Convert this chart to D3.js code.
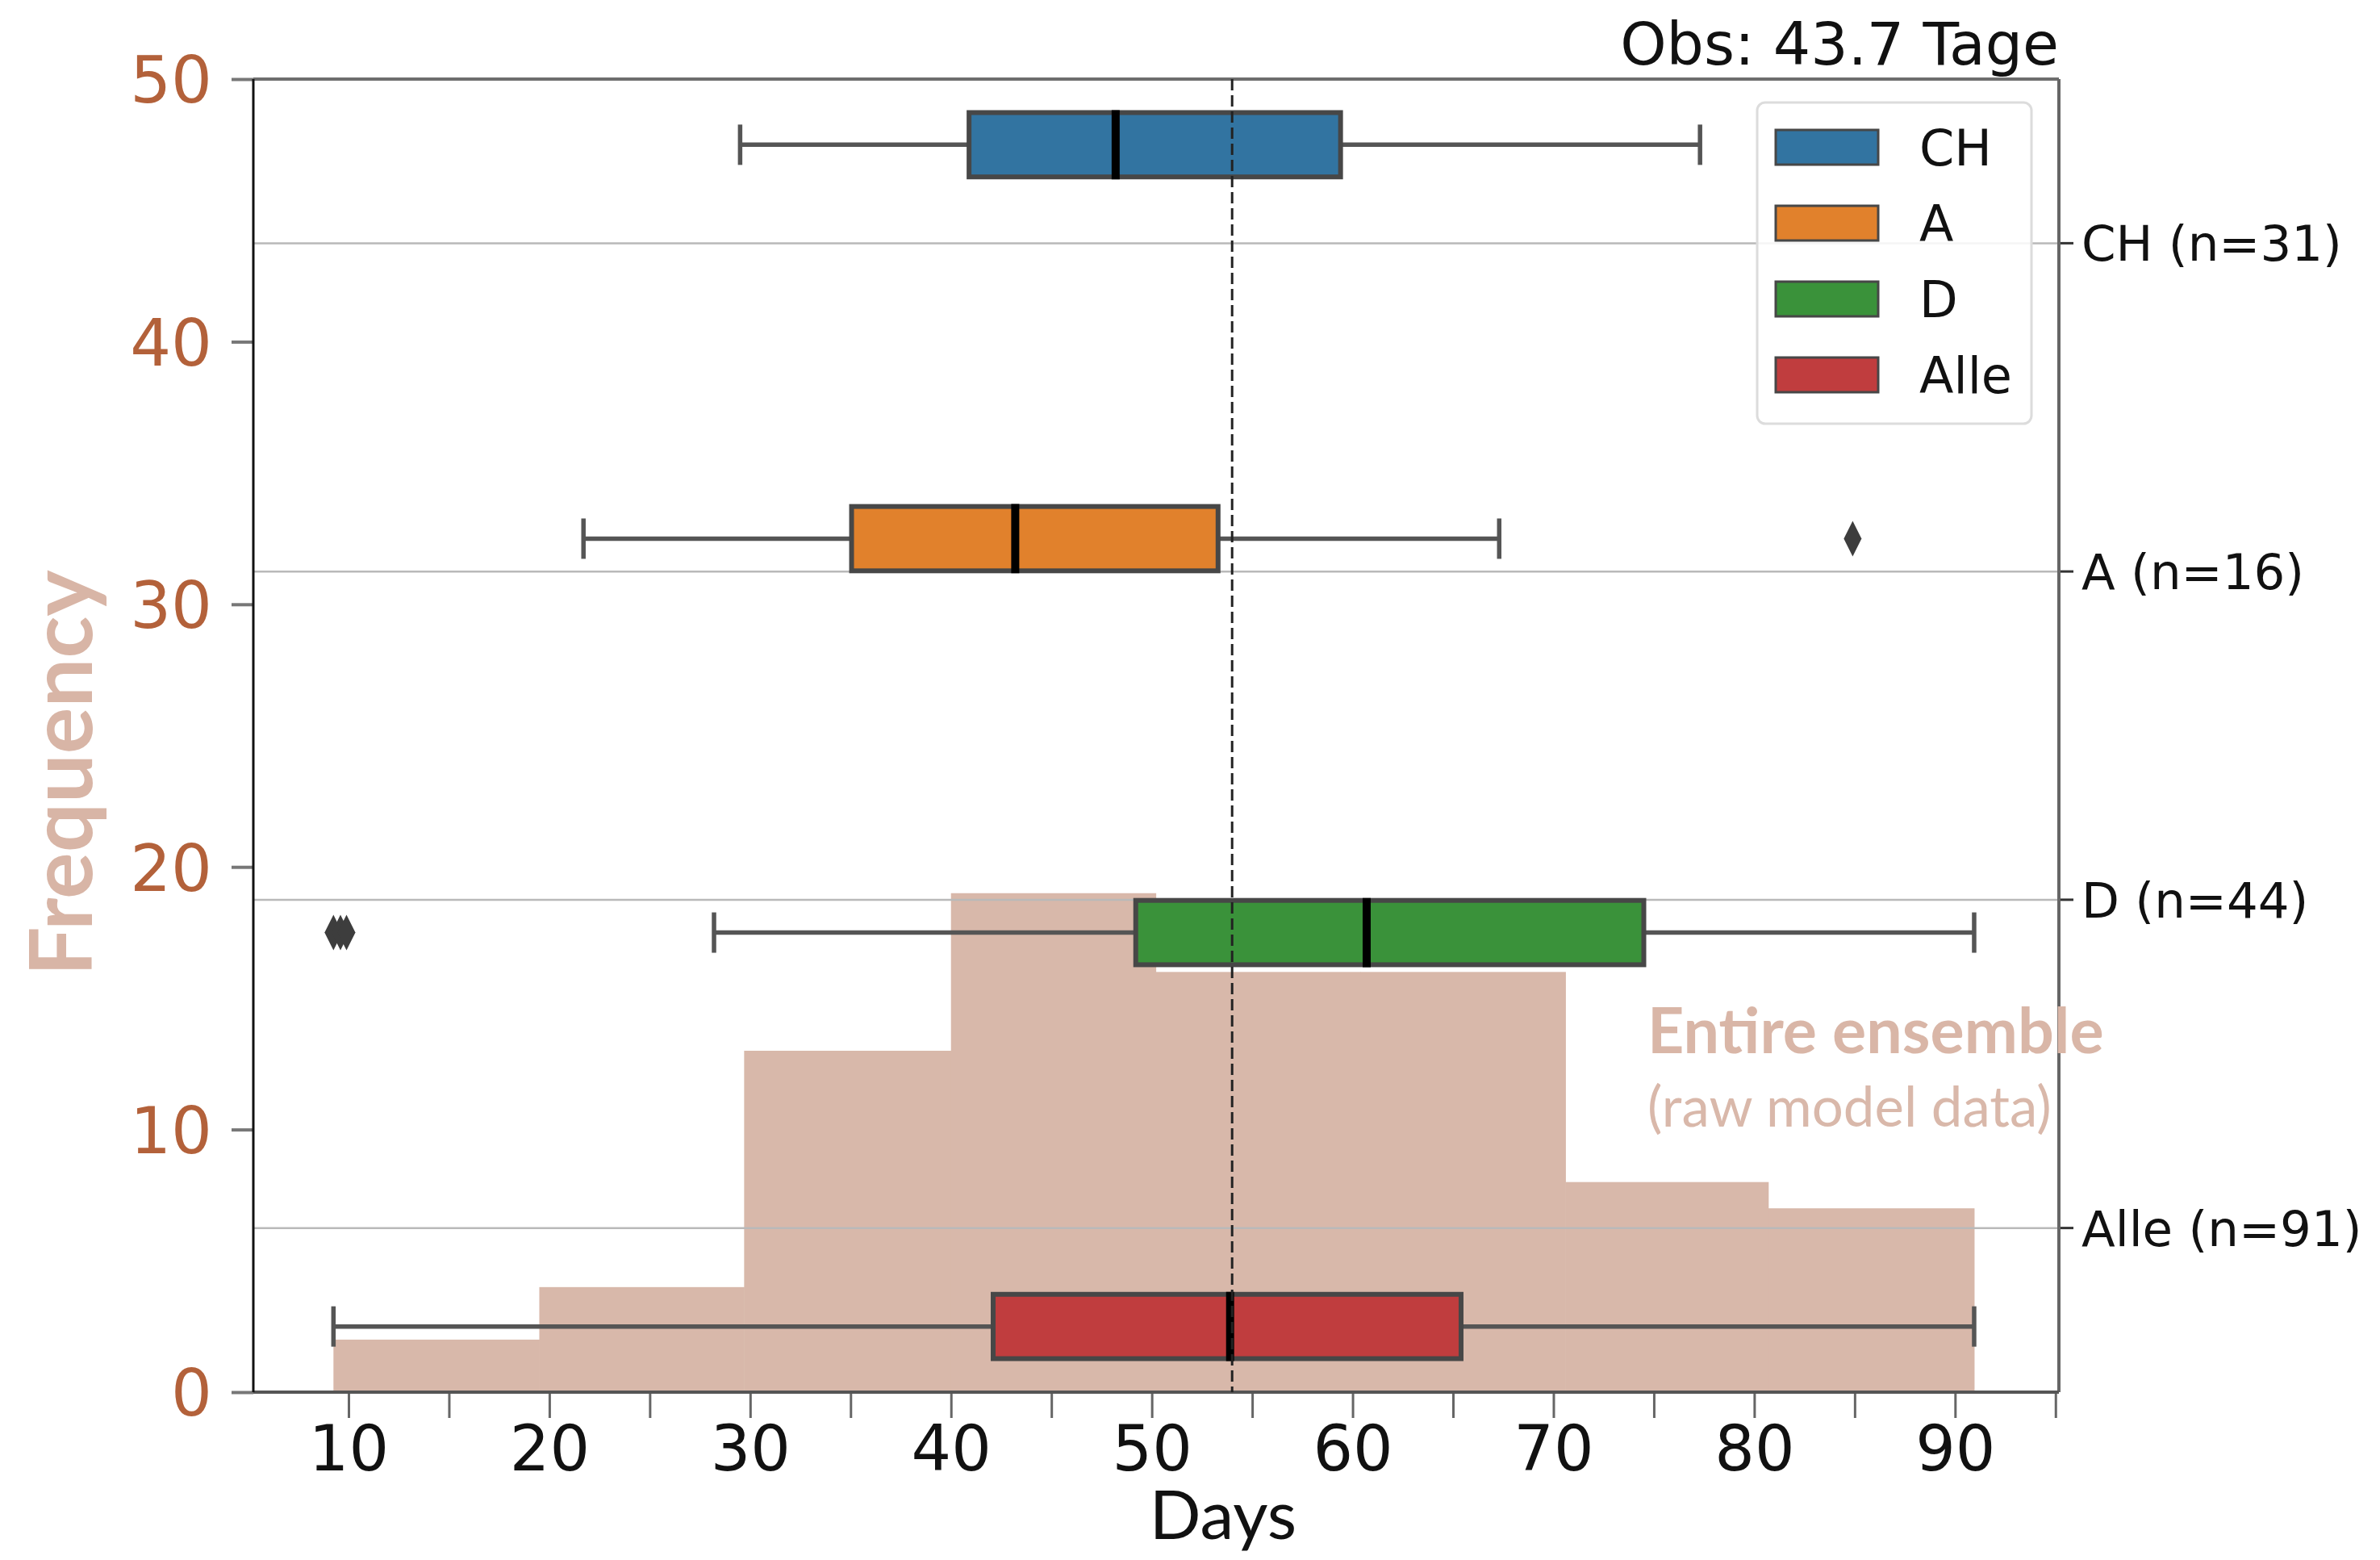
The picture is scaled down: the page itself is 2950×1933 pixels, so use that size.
<!DOCTYPE html>
<html>
<head>
<meta charset="utf-8">
<script src="https://cdn.jsdelivr.net/npm/d3@7"></script>
<style>
  html, body { margin: 0; padding: 0; background: #fff; }
  svg { display: block; }
</style>
</head>
<body>
<script>
// ---------------- data ----------------
const categories = ["CH", "A", "D", "Alle"];
const sampleSizes = [31, 16, 44, 91];
const boxColors = ["#3274a1", "#e1812c", "#3a923a", "#c03d3e"];
const whiskerLow = [29.5, 21.7, 28.2, 9.25];
const q1 = [40.9, 35.05, 49.2, 42.1];
const medians = [48.2, 43.2, 60.7, 53.9];
const q3 = [59.4, 53.3, 74.5, 65.4];
const whiskerHigh = [77.3, 67.3, 90.95, 90.95];
const outliers = [[], [84.9], [9.25, 9.6, 9.9], []];

const histEdges = [9.25, 19.5, 29.7, 40.0, 50.2, 60.4, 70.6, 80.7, 90.95];
const histCounts = [2, 4, 13, 19, 16, 16, 8, 7];

const refLineDays = 54.0;
const xTickValues = [10, 15, 20, 25, 30, 35, 40, 45, 50, 55, 60, 65, 70, 75, 80, 85, 90, 95];
const xTickLabels = [10, 20, 30, 40, 50, 60, 70, 80, 90];
const yTickValues = [0, 10, 20, 30, 40, 50];
const titleText = "Obs: 43.7 Tage";

// ---------------- layout ----------------
const W = 2950, H = 1933;
const L = 314, R = 2552, T = 98, B = 1725;

const svg = d3.select("body").append("svg").attr("width", W).attr("height", H);
svg.append("rect").attr("width", W).attr("height", H).attr("fill", "#fff");

const x = d3.scaleLinear().domain([5.26, 95.17]).range([L, R]);
const y = d3.scaleLinear().domain([0, 50]).range([B, T]);
const yc = d3.scaleLinear().domain([-0.5, 3.5]).range([T, B]);
const hueOffsets = [-0.3, -0.1, 0.1, 0.3];
const boxW = 0.196;

const dejavu = "'DejaVu Sans', sans-serif";
const lato = "Lato, 'Open Sans', sans-serif";
const histColor = "#d8b8aa";

// histogram
const bins = histCounts.map((c, i) => ({ x0: histEdges[i], x1: histEdges[i + 1], c }));
svg.append("g").selectAll("rect").data(bins).join("rect")
  .attr("x", d => x(d.x0))
  .attr("y", d => y(d.c))
  .attr("width", d => x(d.x1) - x(d.x0) + 0.5)
  .attr("height", d => y(0) - y(d.c))
  .attr("fill", histColor);

// gridlines for category axis
svg.append("g").selectAll("line").data(categories).join("line")
  .attr("x1", L).attr("x2", R)
  .attr("y1", (d, i) => yc(i)).attr("y2", (d, i) => yc(i))
  .attr("stroke", "#b9b9b9").attr("stroke-width", 2.5);

// left axis
const yAxis = d3.axisLeft(y).tickValues(yTickValues).tickSize(27).tickPadding(24).tickFormat(d3.format("d"));
const gy = svg.append("g").attr("transform", `translate(${L},0)`).call(yAxis);
gy.select(".domain").remove();
gy.selectAll(".tick line").attr("stroke", "#777").attr("stroke-width", 4);
gy.selectAll(".tick text").attr("fill", "#b3613a").attr("font-size", 80).attr("font-family", dejavu)
  .attr("dy", "0.36em");

// bottom axis
const xAxis = d3.axisBottom(x).tickValues(xTickValues).tickSize(32).tickPadding(10)
  .tickFormat(d => xTickLabels.includes(d) ? d : "");
const gx = svg.append("g").attr("transform", `translate(0,${B})`).call(xAxis);
gx.select(".domain").remove();
gx.selectAll(".tick line").attr("stroke", "#666").attr("stroke-width", 3);
gx.selectAll(".tick text").attr("fill", "#111").attr("font-size", 78).attr("font-family", dejavu);

// right category axis
const gr = svg.append("g");
gr.selectAll("line").data(categories).join("line")
  .attr("x1", R).attr("x2", R + 18)
  .attr("y1", (d, i) => yc(i)).attr("y2", (d, i) => yc(i))
  .attr("stroke", "#333").attr("stroke-width", 3);
gr.selectAll("text").data(categories).join("text")
  .attr("x", R + 28).attr("y", (d, i) => yc(i))
  .attr("dy", "0.36em")
  .attr("font-family", dejavu).attr("font-size", 61).attr("fill", "#111")
  .text((d, i) => `${d} (n=${sampleSizes[i]})`);

// boxplots
const edgeColor = "#474747";
const whiskColor = "#555";
const boxes = svg.append("g").selectAll("g").data(categories).join("g");
boxes.each(function (d, i) {
  const g = d3.select(this);
  const cy = yc(i + hueOffsets[i]);
  const hh = (yc(boxW) - yc(0)) / 2;
  const capH = 25;
  g.append("line").attr("x1", x(whiskerLow[i])).attr("x2", x(q1[i]))
    .attr("y1", cy).attr("y2", cy).attr("stroke", whiskColor).attr("stroke-width", 5.5);
  g.append("line").attr("x1", x(q3[i])).attr("x2", x(whiskerHigh[i]))
    .attr("y1", cy).attr("y2", cy).attr("stroke", whiskColor).attr("stroke-width", 5.5);
  [whiskerLow[i], whiskerHigh[i]].forEach(v => {
    g.append("line").attr("x1", x(v)).attr("x2", x(v))
      .attr("y1", cy - capH).attr("y2", cy + capH)
      .attr("stroke", whiskColor).attr("stroke-width", 5.5);
  });
  g.append("rect").attr("x", x(q1[i])).attr("y", cy - hh)
    .attr("width", x(q3[i]) - x(q1[i])).attr("height", 2 * hh)
    .attr("fill", boxColors[i]).attr("stroke", edgeColor).attr("stroke-width", 6);
  g.append("line").attr("x1", x(medians[i])).attr("x2", x(medians[i]))
    .attr("y1", cy - hh - 3).attr("y2", cy + hh + 3)
    .attr("stroke", "#000").attr("stroke-width", 10);
  g.selectAll("path.out").data(outliers[i]).join("path").attr("class", "out")
    .attr("d", v => `M${x(v)},${cy - 22} L${x(v) + 11},${cy} L${x(v)},${cy + 22} L${x(v) - 11},${cy} Z`)
    .attr("fill", "#3d3d3d");
});

// spines
svg.append("line").attr("x1", L).attr("x2", R).attr("y1", T).attr("y2", T).attr("stroke", "#6e6e6e").attr("stroke-width", 4);
svg.append("line").attr("x1", R).attr("x2", R).attr("y1", T).attr("y2", B).attr("stroke", "#666").attr("stroke-width", 4);
svg.append("line").attr("x1", L).attr("x2", R).attr("y1", B).attr("y2", B).attr("stroke", "#555").attr("stroke-width", 4);
svg.append("line").attr("x1", L).attr("x2", L).attr("y1", T).attr("y2", B).attr("stroke", "#111").attr("stroke-width", 3);

// dashed reference line
svg.append("line").attr("x1", x(refLineDays)).attr("x2", x(refLineDays))
  .attr("y1", T).attr("y2", B)
  .attr("stroke", "#222").attr("stroke-width", 3).attr("stroke-dasharray", "14,6");

// legend
const lg = svg.append("g");
lg.append("rect").attr("x", 2178).attr("y", 127).attr("width", 340).attr("height", 398).attr("rx", 10)
  .attr("fill", "#fff").attr("fill-opacity", 0.85).attr("stroke", "#dcdcdc").attr("stroke-width", 3);
const items = lg.selectAll("g").data(categories).join("g")
  .attr("transform", (d, i) => `translate(2201,${161 + i * 94})`);
items.append("rect").attr("width", 127).attr("height", 43)
  .attr("fill", (d, i) => boxColors[i]).attr("stroke", edgeColor).attr("stroke-width", 3);
items.append("text").attr("x", 178).attr("y", 21.5).attr("dy", "0.36em")
  .attr("font-family", dejavu).attr("font-size", 62).attr("fill", "#111").text(d => d);

// title
svg.append("text").attr("x", R).attr("y", 80).attr("text-anchor", "end")
  .attr("font-family", dejavu).attr("font-size", 73).attr("fill", "#111").text(titleText);

// axis labels
svg.append("text").attr("transform", `translate(114,958) rotate(-90)`)
  .attr("text-anchor", "middle")
  .attr("font-family", lato).attr("font-weight", "bold").attr("font-size", 108)
  .attr("fill", "#d8b5a6").text("Frequency");
svg.append("text").attr("x", 1516).attr("y", 1907).attr("text-anchor", "middle")
  .attr("font-family", lato).attr("font-size", 84).attr("fill", "#111").text("Days");

// annotation
svg.append("text").attr("x", 2042).attr("y", 1305)
  .attr("font-family", lato).attr("font-weight", "bold").attr("font-size", 79)
  .attr("fill", "#d9b6a7").text("Entire ensemble");
svg.append("text").attr("x", 2042).attr("y", 1396)
  .attr("font-family", lato).attr("font-size", 69)
  .attr("fill", "#d9b8aa").text("(raw model data)");
</script>
</body>
</html>
